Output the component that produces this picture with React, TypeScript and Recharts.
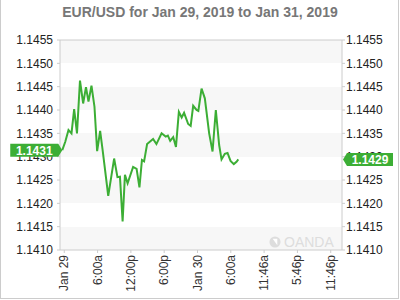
import React from 'react';
import { ComposedChart, Line, XAxis, YAxis, CartesianGrid, ReferenceLine, ReferenceDot } from 'recharts';

const title = 'EUR/USD for Jan 29, 2019 to Jan 31, 2019';

// hours since Jan 29 00:00
const hours = [
  -0.36, 0.18, 0.76, 1.3, 1.78, 2.29, 2.83, 3.4, 3.91, 4.36, 4.9, 5.44, 5.92, 6.46, 6.91, 7.92,
  8.98, 9.58, 10.03, 10.51, 10.93, 11.41, 12.4, 13.03, 13.54, 13.99, 14.38, 14.92, 16.0, 16.6,
  17.53, 18.27, 18.66, 19.08, 19.62, 20.12, 20.64, 21.15, 21.58, 22.32, 22.77, 23.22, 23.83,
  24.15, 24.73, 25.32, 26.1, 26.71, 27.3, 27.9, 28.33, 28.92, 29.41, 29.95, 30.54, 31.03, 31.35,
];
const rates = [
  1.14314, 1.14332, 1.14357, 1.1435, 1.14402, 1.1435, 1.14463, 1.14414, 1.14449, 1.14418, 1.14452,
  1.14407, 1.14312, 1.14355, 1.14314, 1.14216, 1.14296, 1.14256, 1.14257, 1.14161, 1.14261,
  1.14243, 1.14278, 1.14274, 1.14234, 1.14293, 1.1429, 1.14327, 1.14338, 1.14327, 1.1435,
  1.14343, 1.14345, 1.14334, 1.14342, 1.14321, 1.14396, 1.14384, 1.14394, 1.1437, 1.14366,
  1.14409, 1.144, 1.14398, 1.14446, 1.14425, 1.1435, 1.14311, 1.144, 1.14325, 1.14294,
  1.14306, 1.14308, 1.14291, 1.14284, 1.14289, 1.14294,
];

const xTickHours = [0, 6, 12, 18, 24, 30, 36, 42, 48];
const xTickLabels = ['Jan 29', '6:00a', '12:00p', '6:00p', 'Jan 30', '6:00a', '11:46a', '5:46p', '11:46p'];
const xDomain = [-0.77, 50.03];
const yDomain = [1.141, 1.1455];
const yTicks = [1.141, 1.1415, 1.142, 1.1425, 1.143, 1.1435, 1.144, 1.1445, 1.145, 1.1455];
const openLabel = '1.1431';
const lastLabel = '1.1429';

const data = hours.map((h, i) => ({ h, rate: rates[i] }));

const FONT = '"Liberation Sans", Arial, sans-serif';
const GREEN = '#3cae35';
const AXIS = '#cccccc';
const MARGIN = { top: 40, right: 0, bottom: 0, left: 0 };

const XTick = (props: any) => {
  const { x, y, payload } = props;
  const idx = xTickHours.indexOf(payload.value);
  return (
    <g transform={`translate(${x},${y})`}>
      <text transform="rotate(-90)" textAnchor="end" dy={4} fontSize={12} fill="#333" fontFamily={FONT}>
        {xTickLabels[idx]}
      </text>
    </g>
  );
};

const LeftFlag = (props: any) => {
  const { cx, cy } = props;
  const w = 48;
  const h = 13;
  const a = 4;
  const pts = `${cx - a - w},${cy - h / 2} ${cx - a},${cy - h / 2} ${cx},${cy} ${cx - a},${cy + h / 2} ${cx - a - w},${cy + h / 2}`;
  return (
    <g>
      <polygon points={pts} fill={GREEN} />
      <text x={cx - a - w / 2} y={cy} dy={4.5} textAnchor="middle" fontSize={12} fontWeight="bold" fill="#fff" fontFamily={FONT}>
        {openLabel}
      </text>
    </g>
  );
};

const RightFlag = (props: any) => {
  const { cx, cy } = props;
  const w = 46;
  const h = 13;
  const a = 4;
  const x0 = cx + 1;
  const pts = `${x0},${cy} ${x0 + a},${cy - h / 2} ${x0 + a + w},${cy - h / 2} ${x0 + a + w},${cy + h / 2} ${x0 + a},${cy + h / 2}`;
  return (
    <g>
      <polygon points={pts} fill={GREEN} />
      <text x={x0 + a + w / 2} y={cy} dy={4.5} textAnchor="middle" fontSize={12} fontWeight="bold" fill="#fff" fontFamily={FONT}>
        {lastLabel}
      </text>
    </g>
  );
};

export default function App() {
  return (
    <div
      style={{
        position: 'absolute',
        left: 0,
        top: 0,
        width: 399,
        height: 299,
        boxSizing: 'border-box',
        borderLeft: `1px solid ${AXIS}`,
        borderRight: `1px solid ${AXIS}`,
        borderBottom: `1px solid ${AXIS}`,
        background: '#fff',
        overflow: 'hidden',
      }}
    >
      <div
        style={{
          position: 'absolute',
          left: -1,
          top: 5,
          width: 400,
          textAlign: 'center',
          fontFamily: FONT,
          fontWeight: 'bold',
          fontSize: 14,
          lineHeight: '15px',
          color: '#777',
        }}
      >
        {title}
      </div>
      <div style={{ position: 'absolute', left: -1, top: 0 }}>
        <ComposedChart width={400} height={300} data={data} margin={MARGIN}>
          <CartesianGrid
            yAxisId="left"
            vertical={false}
            stroke="none"
            horizontalFill={['#f7f7f7', '#ffffff']}
            fillOpacity={1}
          />
          <XAxis
            dataKey="h"
            type="number"
            domain={xDomain}
            ticks={xTickHours}
            allowDataOverflow
            height={50}
            tickSize={3}
            tickMargin={2}
            axisLine={{ stroke: AXIS }}
            tickLine={{ stroke: AXIS }}
            tick={<XTick />}
            interval={0}
          />
          <YAxis
            yAxisId="left"
            orientation="left"
            width={60}
            domain={yDomain}
            ticks={yTicks}
            allowDataOverflow
            tickSize={3}
            tickMargin={4}
            axisLine={{ stroke: AXIS }}
            tickLine={{ stroke: AXIS }}
            tickFormatter={(v: number) => v.toFixed(4)}
            tick={{ fontSize: 12, fill: '#222', fontFamily: FONT }}
            interval={0}
          />
          <YAxis
            yAxisId="right"
            orientation="right"
            width={58}
            domain={yDomain}
            ticks={yTicks}
            allowDataOverflow
            tickSize={3}
            tickMargin={1}
            axisLine={{ stroke: AXIS }}
            tickLine={{ stroke: AXIS }}
            tickFormatter={(v: number) => v.toFixed(4)}
            tick={{ fontSize: 12, fill: '#222', fontFamily: FONT }}
            interval={0}
          />
          <ReferenceLine yAxisId="left" y={yDomain[1]} stroke={AXIS} ifOverflow="visible" />
          <Line
            yAxisId="left"
            dataKey="rate"
            type="linear"
            stroke={GREEN}
            strokeWidth={2}
            dot={false}
            isAnimationActive={false}
          />
        </ComposedChart>
      </div>
      <div
        style={{
          position: 'absolute',
          left: 268,
          top: 234,
          display: 'flex',
          alignItems: 'center',
          gap: 3,
          fontFamily: FONT,
          fontSize: 14,
          color: '#dddddd',
        }}
      >
        <svg width={12} height={12} viewBox="0 0 13 13">
          <circle cx={6.5} cy={6.5} r={6} fill="#dddddd" />
          <path d="M4 3 L9 10 L9 3 Z" fill="#fff" />
        </svg>
        <span>OANDA</span>
      </div>
      <div style={{ position: 'absolute', left: -1, top: 0 }}>
        <ComposedChart width={400} height={300} data={data} margin={MARGIN}>
          <XAxis
            dataKey="h"
            type="number"
            domain={xDomain}
            allowDataOverflow
            height={50}
            tick={false}
            axisLine={false}
            tickLine={false}
          />
          <YAxis
            yAxisId="left"
            orientation="left"
            width={60}
            domain={yDomain}
            allowDataOverflow
            tick={false}
            axisLine={false}
            tickLine={false}
          />
          <YAxis
            yAxisId="right"
            orientation="right"
            width={58}
            domain={yDomain}
            allowDataOverflow
            tick={false}
            axisLine={false}
            tickLine={false}
          />
          <ReferenceDot
            yAxisId="left"
            x={hours[0]}
            y={rates[0]}
            ifOverflow="visible"
            shape={(p: any) => <LeftFlag {...p} />}
          />
          <ReferenceDot
            yAxisId="left"
            x={xDomain[1]}
            y={rates[rates.length - 1]}
            ifOverflow="visible"
            shape={(p: any) => <RightFlag {...p} />}
          />
        </ComposedChart>
      </div>
    </div>
  );
}
